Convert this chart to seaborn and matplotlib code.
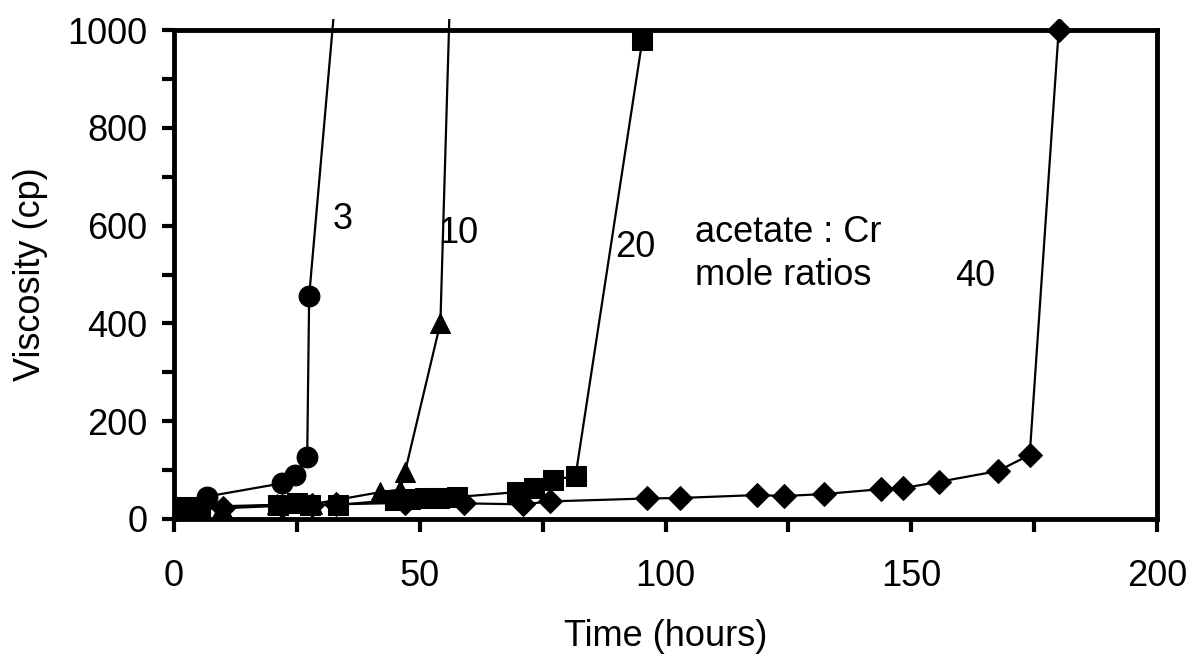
import matplotlib
matplotlib.use("Agg")
import matplotlib.pyplot as plt
from matplotlib.patches import Rectangle
from matplotlib.ticker import MultipleLocator
import numpy as np
import pandas as pd
import seaborn as sns

# Viscosity (cp) versus time (hours) for four acetate : Cr mole ratios
t_3 = [0, 6.7, 22, 24.7, 27.1, 27.5, 34]
v_3 = [25, 46, 73, 90, 127, 456, 1203]

t_10 = [0, 9.8, 21, 28, 42, 46, 47, 54.2, 57.5]
v_10 = [22, 22, 30, 30, 55, 60, 96, 401, 1535]

t_20 = [1, 5.3, 21.2, 25, 27.7, 33.4, 45, 48, 51, 54, 57.6, 69.8, 73.2, 77.2, 81.7, 95.3]
v_20 = [25, 25, 29, 32, 29, 29, 39, 40, 42, 42, 45, 55, 63, 80, 88, 980]

t_40 = [0, 10, 22, 28, 33, 47, 59, 71, 76.6, 96.3, 103, 118.7, 124.2, 132.2,
        143.8, 148.3, 155.6, 167.6, 174.1, 180]
v_40 = [20, 22, 27, 28, 30, 33, 32, 30, 36, 42, 43, 49, 47, 51,
        61, 63, 76, 98, 131, 1000]

series_names = ["3", "10", "20", "40"]
series_markers = ["o", "^", "s", "D"]
series_sizes = [15, 15, 14, 12]
series_t = [t_3, t_10, t_20, t_40]
series_v = [v_3, v_10, v_20, v_40]

# curve labels: text, time, viscosity
label_texts = ["3", "10", "20", "40"]
label_t = [34.4, 57.8, 93.9, 163.1]
label_v = [613, 584, 555, 496]
note_lines = ["acetate : Cr", "mole ratios"]
note_t = 106.1
note_v = [586, 498]

sns.set_theme(style="white")
plt.rcParams["font.family"] = ["Liberation Sans", "DejaVu Sans"]
plt.rcParams["text.color"] = "black"
plt.rcParams["axes.labelcolor"] = "black"
plt.rcParams["xtick.color"] = "black"
plt.rcParams["ytick.color"] = "black"

fig = plt.figure(figsize=(11.96, 6.57), dpi=100)
ax = fig.add_axes([174 / 1196, 1 - 519 / 657, (1157 - 174) / 1196, (519 - 30) / 657])

for name, mk, ms, tt, vv in zip(series_names, series_markers, series_sizes, series_t, series_v):
    df = pd.DataFrame({"Time": tt, "Viscosity": vv})
    sns.lineplot(data=df, x="Time", y="Viscosity", ax=ax, color="black",
                 estimator=None, sort=False, linewidth=1.6, marker=mk,
                 markersize=ms, markeredgecolor="black", markerfacecolor="black",
                 zorder=3)

# let the curves run a little past the top of the frame
clip_rect = Rectangle((0, 0), 1, 1.022, transform=ax.transAxes)
for ln in ax.lines:
    ln.set_clip_path(clip_rect)

ax.set_xlim(0, 200)
ax.set_ylim(0, 1000)
ax.xaxis.set_major_locator(MultipleLocator(50))
ax.xaxis.set_minor_locator(MultipleLocator(25))
ax.yaxis.set_major_locator(MultipleLocator(200))
ax.yaxis.set_minor_locator(MultipleLocator(100))

for side in ["left", "bottom", "top", "right"]:
    ax.spines[side].set_visible(True)
    ax.spines[side].set_linewidth(3.5)
    ax.spines[side].set_color("black")

ax.tick_params(which="both", direction="out", length=9, width=3, color="black",
               labelcolor="black", bottom=True, left=True, top=False, right=False)
ax.tick_params(axis="x", which="major", labelsize=26, pad=20)
ax.tick_params(axis="y", which="major", labelsize=26, pad=10)

ax.set_xlabel("Time (hours)", fontsize=26, labelpad=18, color="black")
ax.set_ylabel("Viscosity (cp)", fontsize=26, labelpad=14, color="black")

for txt, tx, vy in zip(label_texts, label_t, label_v):
    ax.text(tx, vy, txt, fontsize=26, ha="center", va="center", color="black")
for txt, vy in zip(note_lines, note_v):
    ax.text(note_t, vy, txt, fontsize=26, ha="left", va="center", color="black")

fig.savefig("out.png", dpi=100)
